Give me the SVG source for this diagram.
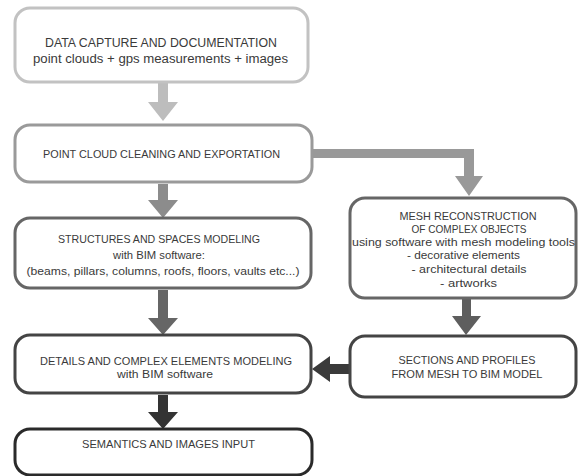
<svg xmlns="http://www.w3.org/2000/svg" width="578" height="476" viewBox="0 0 578 476">
<style>
.box{fill:#fff;stroke-width:3}
.t{font-family:"Liberation Sans",Arial,sans-serif;font-size:10.5px;fill:#3a3a3a;text-anchor:middle}
.b{font-size:12.3px}
</style>
<rect width="578" height="476" fill="#fff"/>
<g id="connectors">
<polygon points="158,83 168,83 168,102 178,102 163,121 148,102 158,102" fill="#bdbdbd"/>
<polygon points="158,184 168,184 168,200 178,200 163,218 148,200 158,200" fill="#8c8c8c"/>
<polygon points="312,149 474,149 474,176 483,176 469,196 455,176 464,176 464,158 312,158" fill="#999"/>
<polygon points="158,290 168,290 168,318 178,318 163,335 148,318 158,318" fill="#666"/>
<polygon points="462,299 471,299 471,316 481,316 466,335 452,316 462,316" fill="#5e5e5e"/>
<polygon points="350,364 350,374 330,374 330,382 312,369 330,356 330,364" fill="#3a3a3a"/>
<polygon points="158,395 168,395 168,412 178,412 163,429 148,412 158,412" fill="#333"/>
</g>
<g id="n1">
<rect class="box" x="15" y="8" width="293" height="74" rx="15" stroke="#c2c2c2" stroke-width="2.5"/>
<text class="t b" x="161" y="47" textLength="232" lengthAdjust="spacingAndGlyphs">DATA CAPTURE AND DOCUMENTATION</text>
<text class="t b" x="160.5" y="63" textLength="255" lengthAdjust="spacingAndGlyphs">point clouds + gps measurements + images</text>
</g>
<g id="n2">
<rect class="box" x="15" y="125" width="297" height="57" rx="15" stroke="#9a9a9a"/>
<text class="t" x="161.5" y="158" textLength="237" lengthAdjust="spacingAndGlyphs">POINT CLOUD CLEANING AND EXPORTATION</text>
</g>
<g id="n3">
<rect class="box" x="15" y="218" width="296" height="70" rx="15" stroke="#666"/>
<text class="t" x="159" y="243" textLength="202" lengthAdjust="spacingAndGlyphs">STRUCTURES AND SPACES MODELING</text>
<text class="t" x="159" y="259" textLength="92" lengthAdjust="spacingAndGlyphs">with BIM software:</text>
<text class="t" x="163" y="275" textLength="273" lengthAdjust="spacingAndGlyphs">(beams, pillars, columns, roofs, floors, vaults etc...)</text>
</g>
<g id="n4">
<rect class="box" x="350" y="198" width="226" height="100" rx="15" stroke="#666"/>
<text class="t" x="468" y="220" textLength="137" lengthAdjust="spacingAndGlyphs">MESH RECONSTRUCTION</text>
<text class="t" x="469" y="233" textLength="115" lengthAdjust="spacingAndGlyphs">OF COMPLEX OBJECTS</text>
<text class="t" x="463.5" y="246" textLength="223" lengthAdjust="spacingAndGlyphs">using software with mesh modeling tools</text>
<text class="t" x="463.5" y="259" textLength="113" lengthAdjust="spacingAndGlyphs">- decorative elements</text>
<text class="t" x="469" y="273" textLength="115" lengthAdjust="spacingAndGlyphs">- architectural details</text>
<text class="t" x="468.5" y="287" textLength="57" lengthAdjust="spacingAndGlyphs">- artworks</text>
</g>
<g id="n5">
<rect class="box" x="15" y="335" width="296" height="58" rx="15" stroke="#444"/>
<text class="t" x="166" y="365" textLength="252" lengthAdjust="spacingAndGlyphs">DETAILS AND COMPLEX ELEMENTS MODELING</text>
<text class="t" x="165" y="378" textLength="96" lengthAdjust="spacingAndGlyphs">with BIM software</text>
</g>
<g id="n6">
<rect class="box" x="350" y="336" width="226" height="61" rx="15" stroke="#444"/>
<text class="t" x="467" y="364" textLength="137" lengthAdjust="spacingAndGlyphs">SECTIONS AND PROFILES</text>
<text class="t" x="467" y="378" textLength="151" lengthAdjust="spacingAndGlyphs">FROM MESH TO BIM MODEL</text>
</g>
<g id="n7">
<rect class="box" x="15" y="429" width="297" height="46" rx="15" stroke="#2a2a2a"/>
<text class="t" x="168.5" y="448" textLength="173" lengthAdjust="spacingAndGlyphs">SEMANTICS AND IMAGES INPUT</text>
</g>
</svg>
